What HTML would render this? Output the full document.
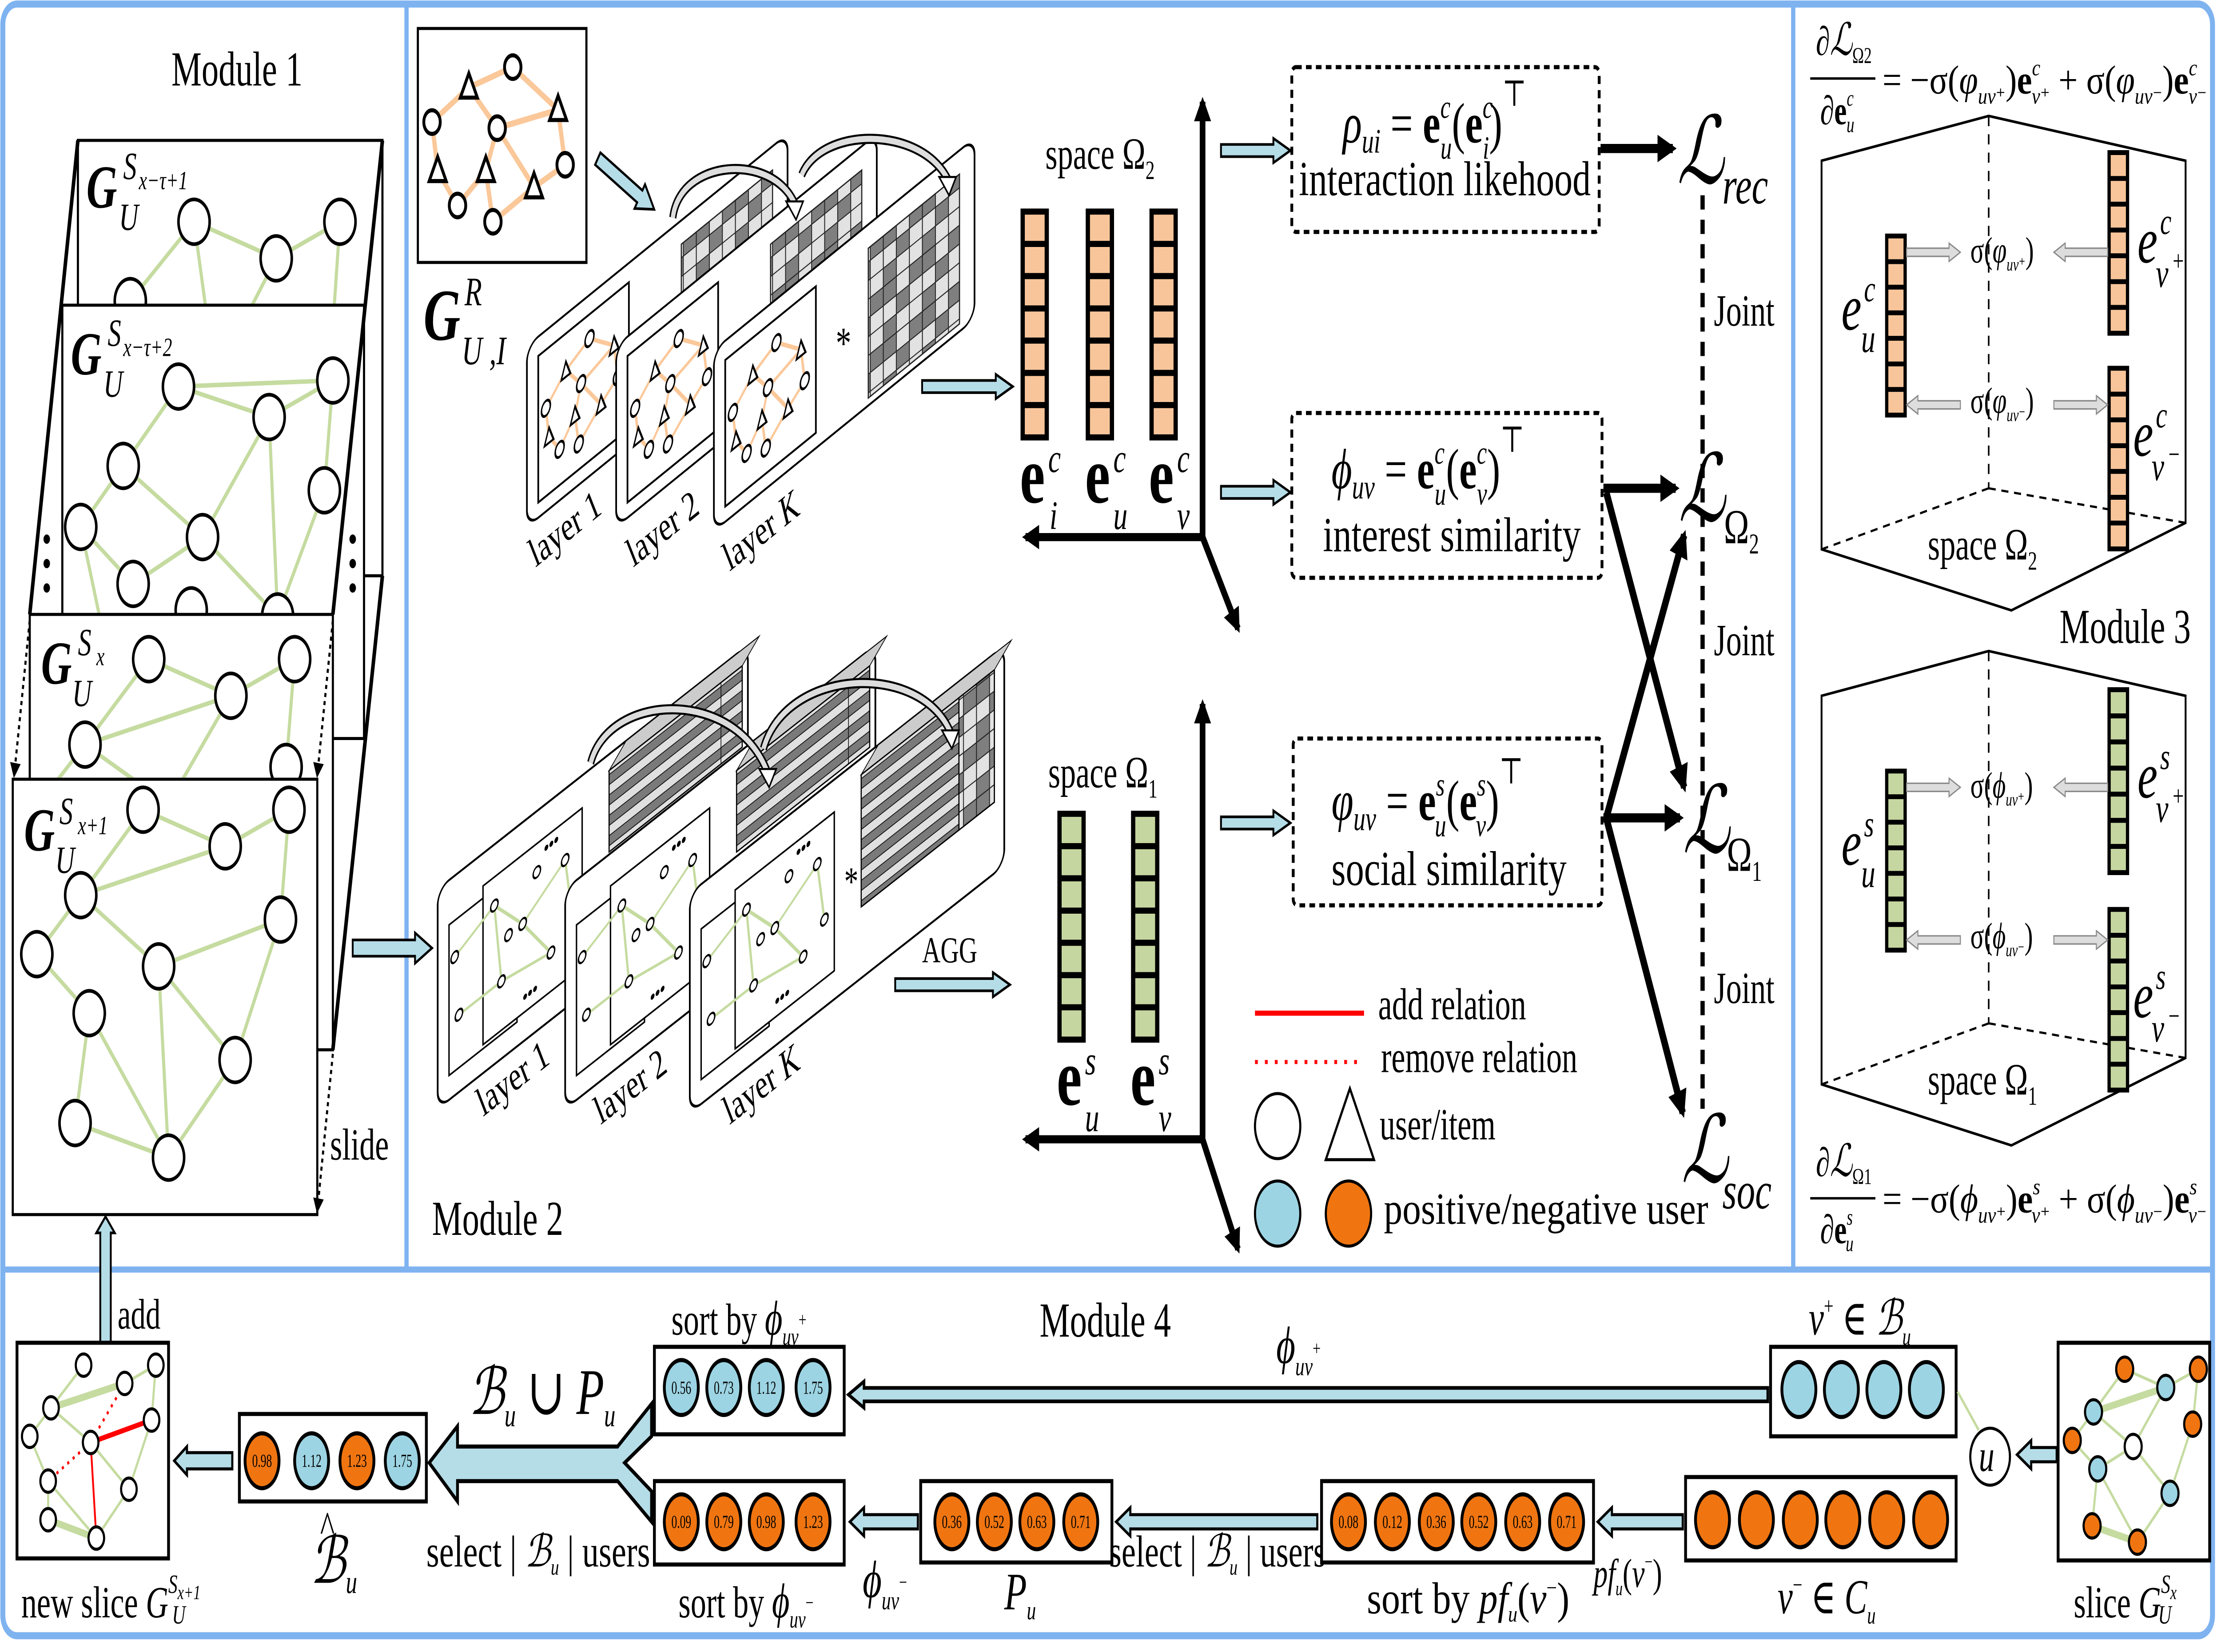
<!DOCTYPE html>
<html><head><meta charset="utf-8"><style>
html,body{margin:0;padding:0;background:#fff;overflow:hidden;width:100%;height:100%}
svg{display:block;width:100vw;height:100vh}
text{font-family:"Liberation Serif","DejaVu Serif",serif}
</style></head><body>
<svg xmlns="http://www.w3.org/2000/svg" viewBox="0 0 1568 812" preserveAspectRatio="none">
<defs>
<marker id="ah" viewBox="0 0 10 10" refX="8" refY="5" markerWidth="3" markerHeight="3" orient="auto"><path d="M0,0 L10,5 L0,10 z" fill="#000"/></marker>
<marker id="ahs" viewBox="0 0 10 10" refX="8" refY="5" markerWidth="5" markerHeight="5" orient="auto"><path d="M0,0 L10,5 L0,10 z" fill="#000"/></marker>
<pattern id="chk" width="27.6" height="27.6" patternUnits="userSpaceOnUse">
<g stroke="#222" stroke-width="0.6">
<rect x="0" y="0" width="9.2" height="9.2" fill="#e2e2e2"/><rect x="9.2" y="0" width="9.2" height="9.2" fill="#7f7f7f"/><rect x="18.4" y="0" width="9.2" height="9.2" fill="#e2e2e2"/>
<rect x="0" y="9.2" width="9.2" height="9.2" fill="#7f7f7f"/><rect x="9.2" y="9.2" width="9.2" height="9.2" fill="#7f7f7f"/><rect x="18.4" y="9.2" width="9.2" height="9.2" fill="#e2e2e2"/>
<rect x="0" y="18.4" width="9.2" height="9.2" fill="#e2e2e2"/><rect x="9.2" y="18.4" width="9.2" height="9.2" fill="#e2e2e2"/><rect x="18.4" y="18.4" width="9.2" height="9.2" fill="#7f7f7f"/>
</g></pattern>
<pattern id="str" width="200" height="10" patternUnits="userSpaceOnUse">
<rect x="0" y="0" width="200" height="5" fill="#7a7a7a" stroke="#111" stroke-width="0.5"/><rect x="0" y="5" width="200" height="5" fill="#e0e0e0" stroke="#111" stroke-width="0.5"/></pattern>
<g id="colO"><rect x="0" y="0" width="17" height="111" fill="#f8c59a" stroke="#000" stroke-width="3"/><g stroke="#000" stroke-width="3"><line x1="0" y1="15.9" x2="17" y2="15.9"/><line x1="0" y1="31.7" x2="17" y2="31.7"/><line x1="0" y1="47.6" x2="17" y2="47.6"/><line x1="0" y1="63.4" x2="17" y2="63.4"/><line x1="0" y1="79.3" x2="17" y2="79.3"/><line x1="0" y1="95.1" x2="17" y2="95.1"/></g></g>
<g id="colG"><rect x="0" y="0" width="17" height="111" fill="#c6d6a0" stroke="#000" stroke-width="3"/><g stroke="#000" stroke-width="3"><line x1="0" y1="15.9" x2="17" y2="15.9"/><line x1="0" y1="31.7" x2="17" y2="31.7"/><line x1="0" y1="47.6" x2="17" y2="47.6"/><line x1="0" y1="63.4" x2="17" y2="63.4"/><line x1="0" y1="79.3" x2="17" y2="79.3"/><line x1="0" y1="95.1" x2="17" y2="95.1"/></g></g>
<g id="gg">
<g stroke="#fbc89a" stroke-width="3" fill="none">
<line x1="305" y1="60" x2="331" y2="43"/><line x1="331" y1="43" x2="362" y2="33"/><line x1="362" y1="33" x2="394" y2="54"/><line x1="331" y1="43" x2="351" y2="63"/><line x1="351" y1="63" x2="394" y2="54"/><line x1="394" y1="54" x2="399" y2="81"/><line x1="305" y1="60" x2="309" y2="84"/><line x1="309" y1="84" x2="323" y2="101"/><line x1="323" y1="101" x2="343" y2="84"/><line x1="343" y1="84" x2="351" y2="63"/><line x1="343" y1="84" x2="348" y2="109"/><line x1="351" y1="63" x2="377" y2="92"/><line x1="348" y1="109" x2="377" y2="92"/><line x1="377" y1="92" x2="399" y2="81"/>
</g>
<g fill="#fff" stroke="#000" stroke-width="2">
<circle cx="362" cy="33" r="5.8"/><circle cx="305" cy="60" r="5.8"/><circle cx="351" cy="63" r="5.8"/><circle cx="399" cy="81" r="5.8"/><circle cx="323" cy="101" r="5.8"/><circle cx="348" cy="109" r="5.8"/>
<path d="M331,36 L337,48 L325,48 Z"/><path d="M394,47 L400,59 L388,59 Z"/><path d="M309,77 L315,89 L303,89 Z"/><path d="M343,77 L349,89 L337,89 Z"/><path d="M377,85 L383,97 L371,97 Z"/>
</g></g>
<g id="cubeIn">
<rect x="8" y="22" width="48" height="74" fill="#fff" stroke="#000" stroke-width="1"/>
<rect x="32" y="16" width="70" height="78" fill="#fff" stroke="#000" stroke-width="1"/>
<g stroke="#c5dba0" stroke-width="1.5"><line x1="12" y1="40" x2="40" y2="30"/><line x1="40" y1="30" x2="60" y2="50"/><line x1="60" y1="50" x2="90" y2="35"/><line x1="40" y1="30" x2="45" y2="70"/><line x1="45" y1="70" x2="80" y2="75"/><line x1="60" y1="50" x2="80" y2="75"/><line x1="90" y1="35" x2="95" y2="65"/><line x1="15" y1="70" x2="45" y2="70"/></g>
<g fill="#fff" stroke="#000" stroke-width="1"><circle cx="12" cy="40" r="2.6"/><circle cx="40" cy="30" r="2.6"/><circle cx="60" cy="50" r="2.6"/><circle cx="90" cy="35" r="2.6"/><circle cx="45" cy="70" r="2.6"/><circle cx="80" cy="75" r="2.6"/><circle cx="95" cy="65" r="2.6"/><circle cx="15" cy="70" r="2.6"/><circle cx="50" cy="50" r="2.6"/><circle cx="70" cy="30" r="2.6"/></g>
<text x="75" y="25" font-size="10" font-weight="bold">•••</text><text x="60" y="90" font-size="10" font-weight="bold">•••</text>
</g>
</defs>

<rect x="2" y="2" width="1560" height="802" rx="10" fill="none" stroke="#7fb3f0" stroke-width="3.5"/>
<line x1="287" y1="3" x2="287" y2="624" stroke="#7fb3f0" stroke-width="3"/>
<line x1="1266" y1="3" x2="1266" y2="624" stroke="#7fb3f0" stroke-width="3"/>
<line x1="3" y1="624" x2="1562" y2="624" stroke="#7fb3f0" stroke-width="3"/>

<text x="121" y="42" font-size="24">Module 1</text>
<rect x="55" y="69" width="215" height="214" fill="#fff" stroke="#000" stroke-width="1.5"/>
<g stroke="#c5dba0" stroke-width="2.2"><line x1="92" y1="148" x2="137" y2="109"/><line x1="137" y1="109" x2="195" y2="127"/><line x1="195" y1="127" x2="240" y2="109"/><line x1="137" y1="109" x2="145" y2="150"/><line x1="195" y1="127" x2="178" y2="150"/><line x1="240" y1="109" x2="236" y2="150"/></g>
<g fill="#fff" stroke="#000" stroke-width="1.8"><circle cx="137" cy="109" r="11"/><circle cx="195" cy="127" r="11"/><circle cx="240" cy="109" r="11"/><circle cx="92" cy="148" r="11"/></g>
<text x="61" y="102" font-size="30" font-style="italic" font-weight="bold">G</text><text x="87" y="88" font-size="19" font-style="italic">S</text><text x="98" y="93" font-size="13" font-style="italic">x−τ+1</text><text x="84" y="113" font-size="19" font-style="italic">U</text>
<rect x="44" y="150" width="213" height="213" fill="#fff" stroke="#000" stroke-width="1.5"/>
<g stroke="#c5dba0" stroke-width="2.2"><line x1="126" y1="190" x2="235" y2="187"/><line x1="126" y1="190" x2="190" y2="205"/><line x1="190" y1="205" x2="235" y2="187"/><line x1="126" y1="190" x2="87" y2="229"/><line x1="87" y1="229" x2="57" y2="259"/><line x1="87" y1="229" x2="143" y2="264"/><line x1="190" y1="205" x2="143" y2="264"/><line x1="190" y1="205" x2="196" y2="303"/><line x1="235" y1="187" x2="229" y2="241"/><line x1="229" y1="241" x2="196" y2="303"/><line x1="57" y1="259" x2="94" y2="287"/><line x1="57" y1="259" x2="70" y2="302"/><line x1="94" y1="287" x2="143" y2="264"/><line x1="143" y1="264" x2="196" y2="303"/></g>
<g fill="#fff" stroke="#000" stroke-width="1.8"><circle cx="126" cy="190" r="11"/><circle cx="190" cy="205" r="11"/><circle cx="235" cy="187" r="11"/><circle cx="87" cy="229" r="11"/><circle cx="229" cy="241" r="11"/><circle cx="57" cy="259" r="11"/><circle cx="143" cy="264" r="11"/><circle cx="94" cy="287" r="11"/><circle cx="135" cy="300" r="11"/><circle cx="196" cy="303" r="11"/></g>
<text x="50" y="184" font-size="30" font-style="italic" font-weight="bold">G</text><text x="76" y="170" font-size="19" font-style="italic">S</text><text x="87" y="175" font-size="13" font-style="italic">x−τ+2</text><text x="73" y="195" font-size="19" font-style="italic">U</text>
<rect x="21" y="302" width="214" height="214" fill="#fff" stroke="#000" stroke-width="1.5"/>
<g stroke="#c5dba0" stroke-width="2.2"><line x1="105" y1="324" x2="163" y2="342"/><line x1="163" y1="342" x2="208" y2="324"/><line x1="105" y1="324" x2="60" y2="366"/><line x1="60" y1="366" x2="163" y2="342"/><line x1="163" y1="342" x2="129" y2="383"/><line x1="208" y1="324" x2="202" y2="377"/><line x1="60" y1="366" x2="41" y2="383"/><line x1="60" y1="366" x2="94" y2="383"/></g>
<g fill="#fff" stroke="#000" stroke-width="1.8"><circle cx="105" cy="324" r="11"/><circle cx="163" cy="342" r="11"/><circle cx="208" cy="324" r="11"/><circle cx="60" cy="366" r="11"/><circle cx="202" cy="377" r="11"/></g>
<text x="29" y="336" font-size="30" font-style="italic" font-weight="bold">G</text><text x="55" y="322" font-size="19" font-style="italic">S</text><text x="68" y="327" font-size="13" font-style="italic">x</text><text x="51" y="347" font-size="19" font-style="italic">U</text>
<rect x="9" y="383" width="215" height="214" fill="#fff" stroke="#000" stroke-width="1.5"/>
<g stroke="#c5dba0" stroke-width="2.2"><line x1="101" y1="398" x2="159" y2="416"/><line x1="159" y1="416" x2="204" y2="398"/><line x1="57" y1="440" x2="101" y2="398"/><line x1="57" y1="440" x2="159" y2="416"/><line x1="26" y1="469" x2="57" y2="440"/><line x1="57" y1="440" x2="112" y2="475"/><line x1="112" y1="475" x2="198" y2="452"/><line x1="204" y1="398" x2="198" y2="452"/><line x1="26" y1="469" x2="63" y2="498"/><line x1="63" y1="498" x2="53" y2="552"/><line x1="63" y1="498" x2="119" y2="569"/><line x1="53" y1="552" x2="119" y2="569"/><line x1="112" y1="475" x2="166" y2="521"/><line x1="112" y1="475" x2="119" y2="569"/><line x1="198" y1="452" x2="166" y2="521"/><line x1="166" y1="521" x2="119" y2="569"/></g>
<g fill="#fff" stroke="#000" stroke-width="1.8"><circle cx="101" cy="398" r="11"/><circle cx="159" cy="416" r="11"/><circle cx="204" cy="398" r="11"/><circle cx="57" cy="440" r="11"/><circle cx="26" cy="469" r="11"/><circle cx="112" cy="475" r="11"/><circle cx="198" cy="452" r="11"/><circle cx="63" cy="498" r="11"/><circle cx="166" cy="521" r="11"/><circle cx="53" cy="552" r="11"/><circle cx="119" cy="569" r="11"/></g>
<text x="17" y="418" font-size="30" font-style="italic" font-weight="bold">G</text><text x="42" y="405" font-size="19" font-style="italic">S</text><text x="55" y="410" font-size="13" font-style="italic">x+1</text><text x="39" y="429" font-size="19" font-style="italic">U</text>
<g stroke="#000" stroke-width="2.5"><line x1="55" y1="69" x2="21" y2="302"/><line x1="270" y1="69" x2="235" y2="302"/><line x1="270" y1="283" x2="235" y2="516"/></g>
<g stroke="#000" stroke-width="1.5" stroke-dasharray="2,2" fill="none" marker-end="url(#ahs)"><line x1="21" y1="305" x2="10" y2="381"/><line x1="235" y1="305" x2="224" y2="381"/><line x1="235" y1="518" x2="224" y2="595"/></g>
<g fill="#000"><circle cx="33" cy="265" r="2.3"/><circle cx="33" cy="277" r="2.3"/><circle cx="33" cy="289" r="2.3"/><circle cx="249" cy="265" r="2.3"/><circle cx="249" cy="277" r="2.3"/><circle cx="249" cy="289" r="2.3"/></g>
<text x="233" y="570" font-size="22">slide</text>
<polygon points="305,466 293,458.5 293,462 249,462 249,470 293,470 293,473.5" fill="#b5dde8" stroke="#000" stroke-width="1.3"/>
<polygon points="74.5,598 81,606 78.2,606 78.2,660 70.8,660 70.8,606 68,606" fill="#b5dde8" stroke="#000" stroke-width="1.3"/>
<text x="83" y="653" font-size="21">add</text>

<rect x="295" y="14" width="119" height="115" fill="#fff" stroke="#000" stroke-width="1.5"/>
<use href="#gg"/>
<text x="299" y="167" font-size="36" font-style="italic" font-weight="bold">G</text><text x="328" y="150" font-size="20" font-style="italic">R</text><text x="326" y="179" font-size="20" font-style="italic">U ,I</text>
<g transform="translate(422,78) rotate(32)"><polygon points="47,0 35,-7 35,-3.5 0,-3.5 0,3.5 35,3.5 35,7" fill="#b5dde8" stroke="#000" stroke-width="1.3"/></g>

<g transform="translate(372,170) skewY(-29.5)">
<rect x="0" y="0" width="184" height="89" rx="8" fill="#fff" stroke="#000" stroke-width="1.2"/>
<rect x="109" y="11.7" width="64.4" height="73.6" fill="url(#chk)" stroke="#222" stroke-width="0.8"/>
<rect x="8" y="9.5" width="64" height="72" fill="#fff" stroke="#000" stroke-width="1.2"/>
<g transform="translate(8,9.5) scale(0.54,0.626) translate(-295,-14)"><use href="#gg"/></g>
</g>
<g transform="translate(435,170) skewY(-29.5)">
<rect x="0" y="0" width="184" height="89" rx="8" fill="#fff" stroke="#000" stroke-width="1.2"/>
<rect x="109" y="11.7" width="64.4" height="73.6" fill="url(#chk)" stroke="#222" stroke-width="0.8"/>
<rect x="8" y="9.5" width="64" height="72" fill="#fff" stroke="#000" stroke-width="1.2"/>
<g transform="translate(8,9.5) scale(0.54,0.626) translate(-295,-14)"><use href="#gg"/></g>
</g>
<g transform="translate(504,172) skewY(-29.5)">
<rect x="0" y="0" width="184" height="89" rx="8" fill="#fff" stroke="#000" stroke-width="1.2"/>
<rect x="109" y="11.7" width="64.4" height="73.6" fill="url(#chk)" stroke="#222" stroke-width="0.8"/>
<rect x="8" y="9.5" width="64" height="72" fill="#fff" stroke="#000" stroke-width="1.2"/>
<g transform="translate(8,9.5) scale(0.54,0.626) translate(-295,-14)"><use href="#gg"/></g>
</g>
<text x="590" y="176" font-size="22">*</text>
<g fill="none"><path d="M475,107 C480,78 545,75 561,100" stroke="#000" stroke-width="5"/><path d="M475,107 C480,78 545,75 561,100" stroke="#ddd" stroke-width="3"/>
<path d="M566,86 C580,62 650,62 669,88" stroke="#000" stroke-width="5"/><path d="M566,86 C580,62 650,62 669,88" stroke="#ddd" stroke-width="3"/></g>
<polygon points="555,99 567,99 562,108" fill="#fff" stroke="#000"/><polygon points="663,87 675,87 670,96" fill="#fff" stroke="#000"/>
<g font-size="20"><text transform="translate(378,279) rotate(-29.5)">layer 1</text><text transform="translate(447,279) rotate(-29.5)">layer 2</text><text transform="translate(515,281) rotate(-29.5)">layer <tspan font-style="italic">K</tspan></text></g>
<polygon points="715,190 703,184 703,187 651,187 651,193 703,193 703,196" fill="#b5dde8" stroke="#000" stroke-width="1.3"/>

<text x="738" y="83" font-size="22">space Ω<tspan font-size="13" dy="5">2</tspan></text>
<use href="#colO" x="722" y="104"/><use href="#colO" x="768" y="104"/><use href="#colO" x="813" y="104"/>
<g font-size="40" font-weight="bold"><text x="720" y="247">e</text><text x="766" y="247">e</text><text x="811" y="247">e</text></g>
<g font-size="20" font-style="italic"><text x="740" y="232">c</text><text x="741" y="260">i</text><text x="786" y="232">c</text><text x="786" y="260">u</text><text x="831" y="232">c</text><text x="831" y="260">v</text></g>
<g stroke="#000" stroke-width="4" fill="none" marker-end="url(#ah)"><line x1="849" y1="264" x2="849" y2="50"/><line x1="849" y1="264" x2="724" y2="264"/><line x1="849" y1="264" x2="874" y2="309"/>
<line x1="849" y1="560" x2="849" y2="346"/><line x1="849" y1="560" x2="724" y2="560"/><line x1="849" y1="560" x2="874" y2="614"/></g>

<g transform="translate(309,437) skewY(-28.7)">
<rect x="0" y="0" width="219" height="108" rx="8" fill="#fff" stroke="#000" stroke-width="1.2"/>
<polygon points="121,8 133,0 227,0 215,8" fill="#ccc" stroke="#000" stroke-width="0.6"/>
<rect x="121" y="8" width="94" height="40" fill="url(#str)" stroke="#000" stroke-width="0.8"/>
<use href="#cubeIn"/>
</g>
<g transform="translate(399,437) skewY(-28.7)">
<rect x="0" y="0" width="219" height="108" rx="8" fill="#fff" stroke="#000" stroke-width="1.2"/>
<polygon points="121,8 133,0 227,0 215,8" fill="#ccc" stroke="#000" stroke-width="0.6"/>
<rect x="121" y="8" width="94" height="40" fill="url(#str)" stroke="#000" stroke-width="0.8"/>
<use href="#cubeIn"/>
</g>
<g transform="translate(487,439) skewY(-28.7)">
<rect x="0" y="0" width="222" height="108" rx="8" fill="#fff" stroke="#000" stroke-width="1.2"/>
<polygon points="121,8 133,0 227,0 215,8" fill="#ccc" stroke="#000" stroke-width="0.6"/>
<rect x="121" y="8" width="94" height="65" fill="url(#str)" stroke="#000" stroke-width="0.8"/>
<rect x="190" y="8" width="25" height="65" fill="url(#chk)" stroke="#000" stroke-width="0.8"/>
<use href="#cubeIn"/>
</g>
<text x="596" y="440" font-size="20">*</text>
<g fill="none"><path d="M417,375 C430,340 520,338 542,380" stroke="#000" stroke-width="5"/><path d="M417,375 C430,340 520,338 542,380" stroke="#ddd" stroke-width="3"/>
<path d="M539,368 C555,328 650,325 671,360" stroke="#000" stroke-width="5"/><path d="M539,368 C555,328 650,325 671,360" stroke="#ddd" stroke-width="3"/></g>
<polygon points="536,378 548,378 543,387" fill="#fff" stroke="#000"/><polygon points="665,359 677,359 672,368" fill="#fff" stroke="#000"/>
<g font-size="20"><text transform="translate(341,549) rotate(-29)">layer 1</text><text transform="translate(424,553) rotate(-29)">layer 2</text><text transform="translate(515,553) rotate(-29)">layer  <tspan font-style="italic">K</tspan></text></g>
<text x="651" y="473" font-size="18">AGG</text>
<polygon points="713,484 701,478 701,481 632,481 632,487 701,487 701,490" fill="#b5dde8" stroke="#000" stroke-width="1.3"/>
<text x="740" y="387" font-size="22">space Ω<tspan font-size="13" dy="5">1</tspan></text>
<use href="#colG" x="748" y="400"/><use href="#colG" x="800" y="400"/>
<g font-size="40" font-weight="bold"><text x="746" y="543">e</text><text x="798" y="543">e</text></g>
<g font-size="20" font-style="italic"><text x="766" y="528">s</text><text x="766" y="556">u</text><text x="818" y="528">s</text><text x="818" y="556">v</text></g>
<text x="305" y="607" font-size="24">Module 2</text>

<g fill="none" stroke="#000" stroke-width="2" stroke-dasharray="4,3"><rect x="912" y="33" width="217" height="81" rx="3"/><rect x="912" y="203" width="219" height="81" rx="3"/><rect x="913" y="363" width="218" height="82" rx="3"/></g>
<polygon points="911,74 899,68 899,71 862,71 862,77 899,77 899,80" fill="#b5dde8" stroke="#000" stroke-width="1.3"/>
<polygon points="911,242 899,236 899,239 862,239 862,245 899,245 899,248" fill="#b5dde8" stroke="#000" stroke-width="1.3"/>
<polygon points="911,404.5 899,398.5 899,401.5 862,401.5 862,407.5 899,407.5 899,410.5" fill="#b5dde8" stroke="#000" stroke-width="1.3"/>
<text x="948" y="70" font-size="28"><tspan font-style="italic">ρ</tspan><tspan font-size="17" font-style="italic" dy="5">ui</tspan><tspan dy="-5"> = </tspan><tspan font-weight="bold">e</tspan><tspan font-size="16" font-style="italic" dy="-12">c</tspan><tspan font-size="16" font-style="italic" dx="-7" dy="20">u</tspan><tspan dy="-8">(</tspan><tspan font-weight="bold">e</tspan><tspan font-size="16" font-style="italic" dy="-12">c</tspan><tspan font-size="16" font-style="italic" dx="-7" dy="20">i</tspan><tspan dy="-8">)</tspan><tspan font-size="18" dy="-18">⊤</tspan></text>
<text x="917" y="96" font-size="24" textLength="206" lengthAdjust="spacingAndGlyphs">interaction likehood</text>
<text x="940" y="240" font-size="28"><tspan font-style="italic">ϕ</tspan><tspan font-size="17" font-style="italic" dy="5">uv</tspan><tspan dy="-5"> = </tspan><tspan font-weight="bold">e</tspan><tspan font-size="16" font-style="italic" dy="-12">c</tspan><tspan font-size="16" font-style="italic" dx="-7" dy="20">u</tspan><tspan dy="-8">(</tspan><tspan font-weight="bold">e</tspan><tspan font-size="16" font-style="italic" dy="-12">c</tspan><tspan font-size="16" font-style="italic" dx="-7" dy="20">v</tspan><tspan dy="-8">)</tspan><tspan font-size="18" dy="-18">⊤</tspan></text>
<text x="934" y="271" font-size="24" textLength="182" lengthAdjust="spacingAndGlyphs">interest similarity</text>
<text x="940" y="403" font-size="28"><tspan font-style="italic">φ</tspan><tspan font-size="17" font-style="italic" dy="5">uv</tspan><tspan dy="-5"> = </tspan><tspan font-weight="bold">e</tspan><tspan font-size="16" font-style="italic" dy="-12">s</tspan><tspan font-size="16" font-style="italic" dx="-7" dy="20">u</tspan><tspan dy="-8">(</tspan><tspan font-weight="bold">e</tspan><tspan font-size="16" font-style="italic" dy="-12">s</tspan><tspan font-size="16" font-style="italic" dx="-7" dy="20">v</tspan><tspan dy="-8">)</tspan><tspan font-size="18" dy="-18">⊤</tspan></text>
<text x="940" y="435" font-size="24" textLength="166" lengthAdjust="spacingAndGlyphs">social similarity</text>

<g stroke="#000" stroke-width="4.5" fill="none" marker-end="url(#ah)"><line x1="1130" y1="73" x2="1181" y2="73"/><line x1="1132" y1="240" x2="1183" y2="240"/><line x1="1134" y1="242" x2="1189" y2="387"/><line x1="1134" y1="402" x2="1189" y2="263"/><line x1="1132" y1="402" x2="1186" y2="402"/><line x1="1134" y1="402" x2="1188" y2="547"/></g>
<line x1="1202" y1="96" x2="1202" y2="545" stroke="#000" stroke-width="3" stroke-dasharray="7,5"/>
<g font-size="46" font-style="italic"><text x="1184" y="90">ℒ</text><text x="1185" y="256">ℒ</text><text x="1188" y="419">ℒ</text><text x="1187" y="581">ℒ</text></g>
<g font-size="26" font-style="italic"><text x="1216" y="100">rec</text><text x="1216" y="594">soc</text></g>
<g font-size="24"><text x="1217" y="267">Ω<tspan font-size="14" dy="5">2</tspan></text><text x="1219" y="428">Ω<tspan font-size="14" dy="5">1</tspan></text></g>
<g font-size="22" fill="#000"><text x="1210" y="160">Joint</text><text x="1210" y="322">Joint</text><text x="1210" y="493">Joint</text></g>

<line x1="886" y1="498" x2="963" y2="498" stroke="#f00" stroke-width="2.5"/>
<line x1="886" y1="522" x2="963" y2="522" stroke="#f00" stroke-width="2" stroke-dasharray="2,5"/>
<text x="973" y="501" font-size="22">add relation</text>
<text x="975" y="527" font-size="22">remove relation</text>
<circle cx="902" cy="553.5" r="16" fill="#fff" stroke="#000" stroke-width="1.5"/>
<path d="M953,535 L970,570 L936,570 Z" fill="#fff" stroke="#000" stroke-width="1.5"/>
<text x="974" y="560" font-size="22">user/item</text>
<circle cx="902" cy="596.5" r="16" fill="#9cd4e3" stroke="#000" stroke-width="1.5"/>
<circle cx="952" cy="596.5" r="16" fill="#f07511" stroke="#000" stroke-width="1.5"/>
<text x="977" y="601.5" font-size="22" textLength="229" lengthAdjust="spacingAndGlyphs">positive/negative user</text>

<text x="1282" y="27" font-size="20">∂<tspan font-style="italic" font-size="22">ℒ</tspan><tspan font-size="11" dy="4">Ω2</tspan></text>
<line x1="1278" y1="38.6" x2="1324" y2="38.6" stroke="#000" stroke-width="1.2"/>
<text x="1285" y="61" font-size="20">∂<tspan font-weight="bold">e</tspan><tspan font-size="11" font-style="italic" dy="-9">c</tspan><tspan font-size="11" font-style="italic" dx="-5" dy="13">u</tspan></text>
<text x="1329" y="46" font-size="20" textLength="229" lengthAdjust="spacingAndGlyphs">= −σ(<tspan font-style="italic">φ</tspan><tspan font-size="11" font-style="italic" dy="5">uv⁺</tspan><tspan dy="-5">)</tspan><tspan font-weight="bold">e</tspan><tspan font-size="11" font-style="italic" dy="-9">c</tspan><tspan font-size="11" font-style="italic" dx="-5" dy="14">v⁺</tspan><tspan dy="-5"> + σ(</tspan><tspan font-style="italic">φ</tspan><tspan font-size="11" font-style="italic" dy="5">uv⁻</tspan><tspan dy="-5">)</tspan><tspan font-weight="bold">e</tspan><tspan font-size="11" font-style="italic" dy="-9">c</tspan><tspan font-size="11" font-style="italic" dx="-5" dy="14">v⁻</tspan></text>

<g id="cube1">
<path d="M1286,79 L1404,57 L1543,79 L1543,257 L1420,300 L1286,270 Z" fill="none" stroke="#000" stroke-width="1.3"/>
<path d="M1404,57 L1404,240 M1404,240 L1286,270 M1404,240 L1543,257" fill="none" stroke="#000" stroke-width="1.1" stroke-dasharray="5,4"/>
</g>
<use href="#cube1" y="263"/>
<use href="#colO" transform="translate(1332,116) scale(0.765,0.793)"/>
<use href="#colO" transform="translate(1489,75) scale(0.765,0.8)"/>
<use href="#colO" transform="translate(1489,181) scale(0.765,0.8)"/>
<use href="#colG" transform="translate(1332,379) scale(0.765,0.793)"/>
<use href="#colG" transform="translate(1489,339) scale(0.765,0.81)"/>
<use href="#colG" transform="translate(1489,447) scale(0.765,0.8)"/>
<g fill="#ddd" stroke="#888" stroke-width="0.7">
<polygon points="1346,122 1376,122 1376,119.5 1384,124 1376,128.5 1376,126 1346,126"/>
<polygon points="1488,122 1458,122 1458,119.5 1450,124 1458,128.5 1458,126 1488,126"/>
<polygon points="1384,197 1354,197 1354,194.5 1346,199 1354,203.5 1354,201 1384,201"/>
<polygon points="1450,197 1480,197 1480,194.5 1488,199 1480,203.5 1480,201 1450,201"/>
<polygon points="1346,385 1376,385 1376,382.5 1384,387 1376,391.5 1376,389 1346,389"/>
<polygon points="1488,385 1458,385 1458,382.5 1450,387 1458,391.5 1458,389 1488,389"/>
<polygon points="1384,460 1354,460 1354,457.5 1346,462 1354,466.5 1354,464 1384,464"/>
<polygon points="1450,460 1480,460 1480,457.5 1488,462 1480,466.5 1480,464 1450,464"/>
</g>
<g font-size="18"><text x="1391" y="129">σ(<tspan font-style="italic">φ</tspan><tspan font-size="9" font-style="italic" dy="4">uv⁺</tspan><tspan dy="-4">)</tspan></text>
<text x="1391" y="203">σ(<tspan font-style="italic">φ</tspan><tspan font-size="9" font-style="italic" dy="4">uv⁻</tspan><tspan dy="-4">)</tspan></text>
<text x="1391" y="392">σ(<tspan font-style="italic">ϕ</tspan><tspan font-size="9" font-style="italic" dy="4">uv⁺</tspan><tspan dy="-4">)</tspan></text>
<text x="1391" y="466">σ(<tspan font-style="italic">ϕ</tspan><tspan font-size="9" font-style="italic" dy="4">uv⁻</tspan><tspan dy="-4">)</tspan></text></g>
<g font-style="italic"><text x="1300" y="162" font-size="32">e</text><text x="1316" y="148" font-size="18">c</text><text x="1314" y="173" font-size="20">u</text>
<text x="1509" y="129" font-size="32">e</text><text x="1525" y="115" font-size="18">c</text><text x="1522" y="141" font-size="20">v</text><text x="1533" y="133" font-size="14">+</text>
<text x="1506" y="224" font-size="32">e</text><text x="1522" y="210" font-size="18">c</text><text x="1519" y="236" font-size="20">v</text><text x="1530" y="228" font-size="14">−</text>
<text x="1300" y="425" font-size="32">e</text><text x="1316" y="411" font-size="18">s</text><text x="1314" y="436" font-size="20">u</text>
<text x="1509" y="392" font-size="32">e</text><text x="1525" y="378" font-size="18">s</text><text x="1522" y="404" font-size="20">v</text><text x="1533" y="396" font-size="14">+</text>
<text x="1506" y="500" font-size="32">e</text><text x="1522" y="486" font-size="18">s</text><text x="1519" y="512" font-size="20">v</text><text x="1530" y="504" font-size="14">−</text></g>
<text x="1361" y="275" font-size="22">space Ω<tspan font-size="13" dy="5">2</tspan></text>
<text x="1361" y="538" font-size="22">space Ω<tspan font-size="13" dy="5">1</tspan></text>
<text x="1454" y="316" font-size="24">Module 3</text>
<text x="1282" y="578" font-size="20">∂<tspan font-style="italic" font-size="22">ℒ</tspan><tspan font-size="11" dy="4">Ω1</tspan></text>
<line x1="1278" y1="589" x2="1324" y2="589" stroke="#000" stroke-width="1.2"/>
<text x="1285" y="611" font-size="20">∂<tspan font-weight="bold">e</tspan><tspan font-size="11" font-style="italic" dy="-9">s</tspan><tspan font-size="11" font-style="italic" dx="-5" dy="13">u</tspan></text>
<text x="1329" y="596" font-size="20" textLength="229" lengthAdjust="spacingAndGlyphs">= −σ(<tspan font-style="italic">ϕ</tspan><tspan font-size="11" font-style="italic" dy="5">uv⁺</tspan><tspan dy="-5">)</tspan><tspan font-weight="bold">e</tspan><tspan font-size="11" font-style="italic" dy="-9">s</tspan><tspan font-size="11" font-style="italic" dx="-5" dy="14">v⁺</tspan><tspan dy="-5"> + σ(</tspan><tspan font-style="italic">ϕ</tspan><tspan font-size="11" font-style="italic" dy="5">uv⁻</tspan><tspan dy="-5">)</tspan><tspan font-weight="bold">e</tspan><tspan font-size="11" font-style="italic" dy="-9">s</tspan><tspan font-size="11" font-style="italic" dx="-5" dy="14">v⁻</tspan></text>

<text x="734" y="657" font-size="24">Module 4</text>
<rect x="12" y="660" width="107" height="106" fill="#fff" stroke="#000" stroke-width="2"/>
<g stroke="#c5dba0" stroke-width="1.5"><line x1="59" y1="671" x2="36" y2="692"/><line x1="110" y1="671" x2="88" y2="680"/><line x1="88" y1="680" x2="36" y2="692" stroke-width="3.5"/><line x1="36" y1="692" x2="64" y2="709"/><line x1="36" y1="692" x2="21" y2="706"/><line x1="21" y1="706" x2="34" y2="728"/><line x1="64" y1="709" x2="91" y2="732"/><line x1="110" y1="671" x2="107" y2="698"/><line x1="107" y1="698" x2="91" y2="732"/><line x1="34" y1="728" x2="34" y2="747"/><line x1="34" y1="728" x2="68" y2="756"/><line x1="34" y1="747" x2="68" y2="756" stroke-width="3.5"/><line x1="91" y1="732" x2="68" y2="756"/></g>
<line x1="64" y1="709" x2="107" y2="698" stroke="#f00" stroke-width="2.5"/><line x1="64" y1="709" x2="68" y2="756" stroke="#f00" stroke-width="1.3"/>
<g stroke="#f00" stroke-width="1.5" stroke-dasharray="1.5,3"><line x1="88" y1="680" x2="64" y2="709"/><line x1="64" y1="709" x2="34" y2="728"/></g>
<g fill="#fff" stroke="#000" stroke-width="1.5"><circle cx="59" cy="671" r="5.5"/><circle cx="110" cy="671" r="5.5"/><circle cx="88" cy="680" r="5.5"/><circle cx="36" cy="692" r="5.5"/><circle cx="107" cy="698" r="5.5"/><circle cx="21" cy="706" r="5.5"/><circle cx="64" cy="709" r="5.5"/><circle cx="34" cy="728" r="5.5"/><circle cx="91" cy="732" r="5.5"/><circle cx="34" cy="747" r="5.5"/><circle cx="68" cy="756" r="5.5"/></g>
<text x="15" y="795" font-size="22">new slice <tspan font-style="italic">G</tspan><tspan font-size="13" font-style="italic" dy="-12">S</tspan><tspan font-size="10" font-style="italic" dy="3">x+1</tspan><tspan font-size="13" font-style="italic" dx="-20" dy="12">U</tspan></text>
<polygon points="123,718 132,711 132,714 164,714 164,722 132,722 132,725" fill="#b5dde8" stroke="#000" stroke-width="1.5"/>
<rect x="169" y="695" width="132" height="43" fill="#fff" stroke="#000" stroke-width="2"/>
<g stroke="#000" stroke-width="2"><ellipse cx="185" cy="718" rx="12" ry="13.5" fill="#f07511"/><ellipse cx="220" cy="718" rx="12" ry="13.5" fill="#9cd4e3"/><ellipse cx="252" cy="718" rx="12" ry="13.5" fill="#f07511"/><ellipse cx="284" cy="718" rx="12" ry="13.5" fill="#9cd4e3"/></g>
<g font-size="9"><text x="178" y="721" textLength="14" lengthAdjust="spacingAndGlyphs">0.98</text><text x="213" y="721" textLength="14" lengthAdjust="spacingAndGlyphs">1.12</text><text x="245" y="721" textLength="14" lengthAdjust="spacingAndGlyphs">1.23</text><text x="277" y="721" textLength="14" lengthAdjust="spacingAndGlyphs">1.75</text></g>
<text x="226" y="758" font-size="22">^</text>
<text x="219" y="778" font-size="32" font-style="italic">ℬ<tspan font-size="16" dy="5">u</tspan></text>
<polygon points="303,719 323,701 323,711 436,711 460,690 460,706 441,719 460,733 460,748 436,728 323,728 323,738" fill="#b5dde8" stroke="#000" stroke-width="2"/>
<text x="331" y="695" font-size="32" font-style="italic">ℬ<tspan font-size="16" dy="6">u</tspan><tspan font-style="normal" dy="-6"> ∪ </tspan>P<tspan font-size="16" dy="6">u</tspan></text>
<rect x="462" y="662" width="134" height="43" fill="#fff" stroke="#000" stroke-width="2"/>
<g stroke="#000" stroke-width="2" fill="#9cd4e3"><ellipse cx="481" cy="682" rx="12" ry="13.5"/><ellipse cx="511" cy="682" rx="12" ry="13.5"/><ellipse cx="541" cy="682" rx="12" ry="13.5"/><ellipse cx="574" cy="682" rx="12" ry="13.5"/></g>
<g font-size="9"><text x="474" y="685" textLength="14" lengthAdjust="spacingAndGlyphs">0.56</text><text x="504" y="685" textLength="14" lengthAdjust="spacingAndGlyphs">0.73</text><text x="534" y="685" textLength="14" lengthAdjust="spacingAndGlyphs">1.12</text><text x="567" y="685" textLength="14" lengthAdjust="spacingAndGlyphs">1.75</text></g>
<text x="474" y="656" font-size="22">sort by <tspan font-style="italic" font-size="24">ϕ</tspan><tspan font-size="12" font-style="italic" dy="5">uv</tspan><tspan font-size="10" dy="-9">+</tspan></text>
<rect x="462" y="728" width="134" height="41" fill="#fff" stroke="#000" stroke-width="2"/>
<g stroke="#000" stroke-width="2" fill="#f07511"><ellipse cx="481" cy="748" rx="12" ry="13.5"/><ellipse cx="511" cy="748" rx="12" ry="13.5"/><ellipse cx="541" cy="748" rx="12" ry="13.5"/><ellipse cx="574" cy="748" rx="12" ry="13.5"/></g>
<g font-size="9"><text x="474" y="751" textLength="14" lengthAdjust="spacingAndGlyphs">0.09</text><text x="504" y="751" textLength="14" lengthAdjust="spacingAndGlyphs">0.79</text><text x="534" y="751" textLength="14" lengthAdjust="spacingAndGlyphs">0.98</text><text x="567" y="751" textLength="14" lengthAdjust="spacingAndGlyphs">1.23</text></g>
<text x="301" y="770" font-size="22" textLength="158" lengthAdjust="spacingAndGlyphs">select | <tspan font-style="italic">ℬ</tspan><tspan font-size="11" font-style="italic" dy="4">u</tspan><tspan dy="-4"> | users</tspan></text>
<text x="479" y="795" font-size="22">sort by <tspan font-style="italic" font-size="24">ϕ</tspan><tspan font-size="12" font-style="italic" dy="5">uv</tspan><tspan font-size="10" dy="-9">−</tspan></text>
<polygon points="600,748 610,741 610,744.5 648,744.5 648,751.5 610,751.5 610,755" fill="#b5dde8" stroke="#000" stroke-width="1.5"/>
<text x="609" y="785" font-size="26" font-style="italic">ϕ<tspan font-size="13" dy="6">uv</tspan><tspan font-size="10" font-style="normal" dy="-10">−</tspan></text>
<rect x="650" y="728" width="135" height="40" fill="#fff" stroke="#000" stroke-width="2"/>
<g stroke="#000" stroke-width="2" fill="#f07511"><ellipse cx="672" cy="748" rx="12" ry="13.5"/><ellipse cx="702" cy="748" rx="12" ry="13.5"/><ellipse cx="732" cy="748" rx="12" ry="13.5"/><ellipse cx="763" cy="748" rx="12" ry="13.5"/></g>
<g font-size="9"><text x="665" y="751" textLength="14" lengthAdjust="spacingAndGlyphs">0.36</text><text x="695" y="751" textLength="14" lengthAdjust="spacingAndGlyphs">0.52</text><text x="725" y="751" textLength="14" lengthAdjust="spacingAndGlyphs">0.63</text><text x="756" y="751" textLength="14" lengthAdjust="spacingAndGlyphs">0.71</text></g>
<text x="709" y="791" font-size="26" font-style="italic">P<tspan font-size="13" dy="5">u</tspan></text>
<polygon points="788,748 798,741 798,744.5 930,744.5 930,751.5 798,751.5 798,755" fill="#b5dde8" stroke="#000" stroke-width="1.5"/>
<text x="783" y="770" font-size="22" textLength="153" lengthAdjust="spacingAndGlyphs">select | <tspan font-style="italic">ℬ</tspan><tspan font-size="11" font-style="italic" dy="4">u</tspan><tspan dy="-4"> | users</tspan></text>
<rect x="933" y="728" width="192" height="40" fill="#fff" stroke="#000" stroke-width="2"/>
<g stroke="#000" stroke-width="2" fill="#f07511"><ellipse cx="952" cy="748" rx="12" ry="13.5"/><ellipse cx="983" cy="748" rx="12" ry="13.5"/><ellipse cx="1014" cy="748" rx="12" ry="13.5"/><ellipse cx="1044" cy="748" rx="12" ry="13.5"/><ellipse cx="1075" cy="748" rx="12" ry="13.5"/><ellipse cx="1106" cy="748" rx="12" ry="13.5"/></g>
<g font-size="9"><text x="945" y="751" textLength="14" lengthAdjust="spacingAndGlyphs">0.08</text><text x="976" y="751" textLength="14" lengthAdjust="spacingAndGlyphs">0.12</text><text x="1007" y="751" textLength="14" lengthAdjust="spacingAndGlyphs">0.36</text><text x="1037" y="751" textLength="14" lengthAdjust="spacingAndGlyphs">0.52</text><text x="1068" y="751" textLength="14" lengthAdjust="spacingAndGlyphs">0.63</text><text x="1099" y="751" textLength="14" lengthAdjust="spacingAndGlyphs">0.71</text></g>
<text x="965" y="793" font-size="22" textLength="143" lengthAdjust="spacingAndGlyphs">sort by <tspan font-style="italic">pf</tspan><tspan font-size="11" font-style="italic" dy="4">u</tspan><tspan dy="-4">(</tspan><tspan font-style="italic">v</tspan><tspan font-size="11" dy="-9">−</tspan><tspan dy="9">)</tspan></text>
<polygon points="1128,748 1138,741 1138,744.5 1188,744.5 1188,751.5 1138,751.5 1138,755" fill="#b5dde8" stroke="#000" stroke-width="1.5"/>
<text x="1125" y="780" font-size="20"><tspan font-style="italic">pf</tspan><tspan font-size="10" font-style="italic" dy="4">u</tspan><tspan dy="-4">(</tspan><tspan font-style="italic">v</tspan><tspan font-size="10" dy="-9">−</tspan><tspan dy="9">)</tspan></text>
<rect x="1190" y="726" width="191" height="41" fill="#fff" stroke="#000" stroke-width="2"/>
<g stroke="#000" stroke-width="2" fill="#f07511"><ellipse cx="1209" cy="747" rx="12" ry="13.5"/><ellipse cx="1240" cy="747" rx="12" ry="13.5"/><ellipse cx="1271" cy="747" rx="12" ry="13.5"/><ellipse cx="1301" cy="747" rx="12" ry="13.5"/><ellipse cx="1332" cy="747" rx="12" ry="13.5"/><ellipse cx="1363" cy="747" rx="12" ry="13.5"/></g>
<text x="1255" y="793" font-size="24"><tspan font-style="italic">v</tspan><tspan font-size="12" dy="-10">−</tspan><tspan dy="10"> ∈ </tspan><tspan font-style="italic">C</tspan><tspan font-size="12" font-style="italic" dy="5">u</tspan></text>
<rect x="1250" y="662" width="131" height="44" fill="#fff" stroke="#000" stroke-width="2"/>
<g stroke="#000" stroke-width="2" fill="#9cd4e3"><ellipse cx="1270" cy="683" rx="12" ry="13.5"/><ellipse cx="1300" cy="683" rx="12" ry="13.5"/><ellipse cx="1330" cy="683" rx="12" ry="13.5"/><ellipse cx="1360" cy="683" rx="12" ry="13.5"/></g>
<text x="1277" y="656" font-size="24"><tspan font-style="italic">v</tspan><tspan font-size="12" dy="-10">+</tspan><tspan dy="10"> ∈ </tspan><tspan font-style="italic">ℬ</tspan><tspan font-size="12" font-style="italic" dy="5">u</tspan></text>
<polygon points="599,685.5 610,679 610,682.2 1248,682.2 1248,688.8 610,688.8 610,692" fill="#b5dde8" stroke="#000" stroke-width="1.8"/>
<text x="901" y="670" font-size="26" font-style="italic">ϕ<tspan font-size="13" dy="6">uv</tspan><tspan font-size="10" font-style="normal" dy="-10">+</tspan></text>
<line x1="1382" y1="684" x2="1397" y2="703" stroke="#c5dba0" stroke-width="1.5"/>
<circle cx="1405" cy="716" r="14" fill="#fff" stroke="#000" stroke-width="1.5"/>
<text x="1397" y="723" font-size="22" font-style="italic">u</text>
<polygon points="1424,715 1434,708 1434,711.5 1452,711.5 1452,718.5 1434,718.5 1434,722" fill="#b5dde8" stroke="#000" stroke-width="1.5"/>
<rect x="1453" y="660" width="107" height="107" fill="#fff" stroke="#000" stroke-width="2"/>
<g stroke="#c5dba0" stroke-width="1.5"><line x1="1500" y1="673" x2="1529" y2="682"/><line x1="1552" y1="673" x2="1529" y2="682"/><line x1="1529" y1="682" x2="1478" y2="694" stroke-width="3.5"/><line x1="1500" y1="673" x2="1478" y2="694"/><line x1="1478" y1="694" x2="1463" y2="708"/><line x1="1478" y1="694" x2="1506" y2="711"/><line x1="1529" y1="682" x2="1506" y2="711"/><line x1="1552" y1="673" x2="1548" y2="700"/><line x1="1548" y1="700" x2="1532" y2="734"/><line x1="1463" y1="708" x2="1481" y2="722"/><line x1="1506" y1="711" x2="1481" y2="722"/><line x1="1506" y1="711" x2="1532" y2="734"/><line x1="1481" y1="722" x2="1477" y2="750"/><line x1="1481" y1="722" x2="1509" y2="758"/><line x1="1477" y1="750" x2="1509" y2="758" stroke-width="3.5"/><line x1="1532" y1="734" x2="1509" y2="758"/></g>
<g stroke="#000" stroke-width="1.5"><circle cx="1500" cy="673" r="6" fill="#f07511"/><circle cx="1552" cy="673" r="6" fill="#f07511"/><circle cx="1529" cy="682" r="6" fill="#9cd4e3"/><circle cx="1478" cy="694" r="6" fill="#9cd4e3"/><circle cx="1548" cy="700" r="6" fill="#f07511"/><circle cx="1463" cy="708" r="6" fill="#f07511"/><circle cx="1506" cy="711" r="6" fill="#fff"/><circle cx="1481" cy="722" r="6" fill="#9cd4e3"/><circle cx="1532" cy="734" r="6" fill="#9cd4e3"/><circle cx="1477" cy="750" r="6" fill="#f07511"/><circle cx="1509" cy="758" r="6" fill="#f07511"/></g>
<text x="1464" y="795" font-size="22">slice <tspan font-style="italic">G</tspan><tspan font-size="13" font-style="italic" dy="-12">S</tspan><tspan font-size="10" font-style="italic" dy="3">x</tspan><tspan font-size="13" font-style="italic" dx="-13" dy="12">U</tspan></text>
</svg>
</body></html>
